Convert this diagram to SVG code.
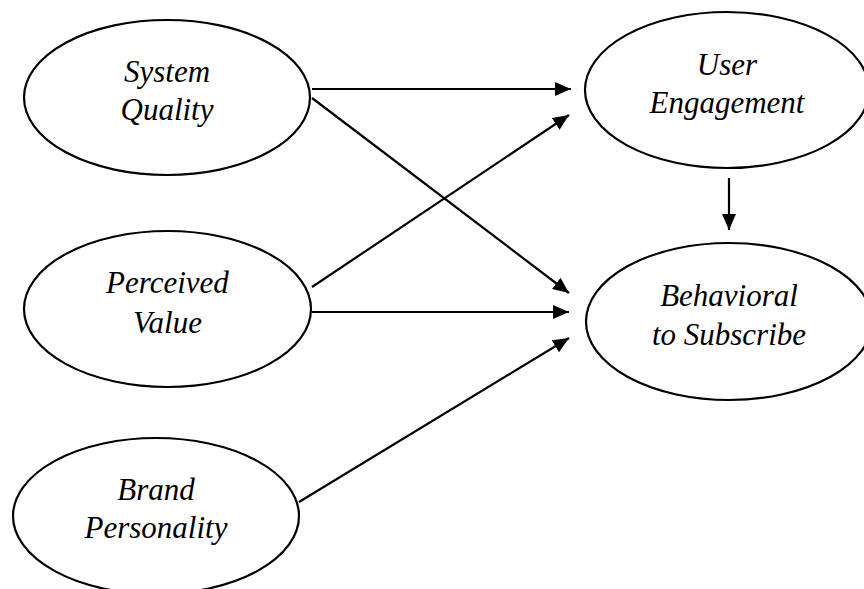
<svg xmlns="http://www.w3.org/2000/svg" width="864" height="589" viewBox="0 0 864 589">
  <style>
    .node { fill: #ffffff; stroke: #000000; stroke-width: 2.2; }
    .label { font-family: "Liberation Serif", "Times New Roman", serif; font-style: italic; font-size: 31px; fill: #000000; text-anchor: middle; }
    .edge { stroke: #000000; stroke-width: 2.2; fill: none; marker-end: url(#arrow); }
  </style>
  <defs>
    <marker id="arrow" markerUnits="userSpaceOnUse" markerWidth="16" markerHeight="14" refX="16" refY="7" orient="auto">
      <path d="M0,0 L16,7 L0,14 Z" fill="#000000"/>
    </marker>
  </defs>

  <rect width="864" height="589" fill="#ffffff"/>

  <g id="connectors">
    <line class="edge" x1="312" y1="89" x2="571" y2="89"/>
    <line class="edge" x1="312" y1="98" x2="569" y2="293"/>
    <line class="edge" x1="312" y1="287" x2="569" y2="115"/>
    <line class="edge" x1="312" y1="312" x2="569" y2="312"/>
    <line class="edge" x1="299" y1="502" x2="569" y2="338"/>
    <line class="edge" x1="729" y1="178" x2="729" y2="230"/>
  </g>

  <g id="system-quality">
    <ellipse class="node" cx="167" cy="97.5" rx="143" ry="77.5"/>
    <text class="label" x="167" y="82">System</text>
    <text class="label" x="167" y="120">Quality</text>
  </g>

  <g id="perceived-value">
    <ellipse class="node" cx="167.5" cy="309" rx="143.5" ry="78"/>
    <text class="label" x="167.5" y="293">Perceived</text>
    <text class="label" x="167.5" y="333">Value</text>
  </g>

  <g id="brand-personality">
    <ellipse class="node" cx="156" cy="516" rx="143" ry="78"/>
    <text class="label" x="156" y="500">Brand</text>
    <text class="label" x="156" y="538">Personality</text>
  </g>

  <g id="user-engagement">
    <ellipse class="node" cx="727" cy="90" rx="142" ry="78"/>
    <text class="label" x="727" y="75">User</text>
    <text class="label" x="727" y="113">Engagement</text>
  </g>

  <g id="behavioral-to-subscribe">
    <ellipse class="node" cx="729" cy="321.5" rx="143" ry="78.5"/>
    <text class="label" x="729" y="306">Behavioral</text>
    <text class="label" x="729" y="345">to Subscribe</text>
  </g>
</svg>
